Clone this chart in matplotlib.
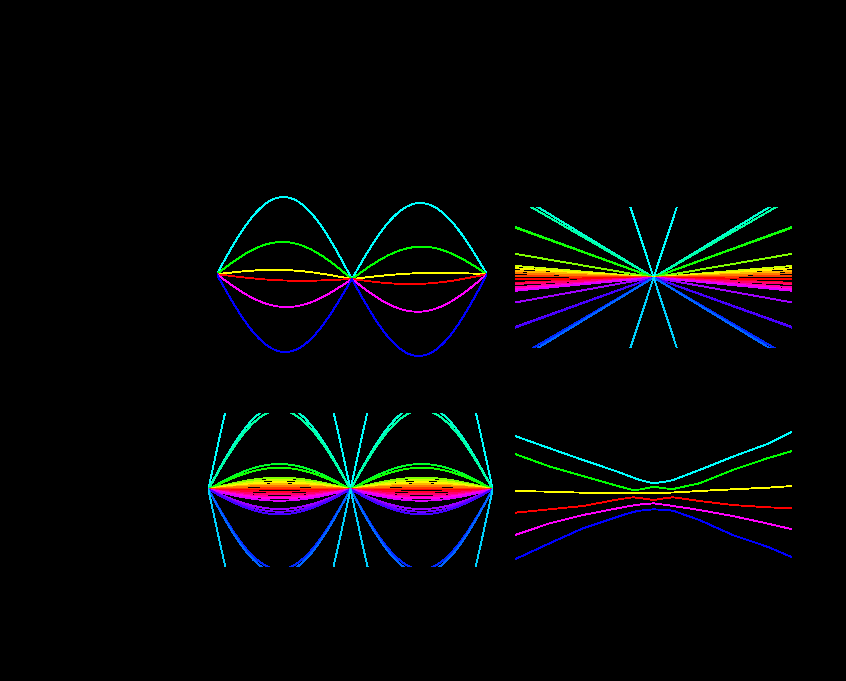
import numpy as np
import matplotlib
matplotlib.use("Agg")
import matplotlib.pyplot as plt
from matplotlib.colors import hsv_to_rgb

W, H = 846, 681

# ---------------- data ----------------
# Top-left: 6 bands, two k segments (nodes at k = 0, 1, 2)
tl_hues = [0.5, 1/3, 1/6, 0.0, 5/6, 2/3]
tl_nodes = [2.3, -2.5, 2.3]                      # common energy at the three nodes
tl_amp_seg1 = [79.6, 34.6, 6.6, -3.9, -30.4, -75.4]
tl_amp_seg2 = [73.6, 29.9, 3.5, -7.3, -35.1, -79.4]

# Top-right: V-shaped bands around k = 0 (slope |k| coefficient)
tr_hues = [0.50, 0.47, 0.44, 0.36, 0.32, 0.25, 0.20, 0.16, 0.12, 0.08, 0.04, 0.0,
           0.97, 0.93, 0.89, 0.85, 0.81, 0.77, 0.74, 0.71, 0.64, 0.60, 0.53]
tr_slopes = [421, 84.3, 79.7, 50.6, 49.9, 23.7, 11.6, 9.3, 6.5, 4.3, 1.5, -1.8,
             -5.3, -6.5, -9.8, -11.9, -13.3, -25.0, -49.5, -50.2, -81.0, -84.4, -421]

# Bottom-left: many bands, arc amplitudes (same on both segments)
bl_hues = [0.50, 0.47, 0.44, 0.36, 0.32, 0.25, 0.20, 0.16, 0.12, 0.08, 0.04, 0.0,
           0.97, 0.93, 0.89, 0.85, 0.81, 0.77, 0.74, 0.71, 0.64, 0.60, 0.53]
bl_amps = [211, 84, 79, 25.3, 21.6, 11.6, 9.3, 7.0, 5.0, 3.6, 1.0, 0.0,
           -2.4, -5.0, -7.4, -9.0, -11.4, -19.7, -22.4, -25.0, -80, -84, -211]

# Bottom-right: 6 bands with avoided crossings, sampled along k
br_hues = [0.5, 1/3, 1/6, 0.0, 5/6, 2/3]
br_k = [-1.0, -0.75, -0.51, -0.26, -0.15, -0.10, 0.0, 0.09, 0.14, 0.33, 0.57, 0.82, 1.0]
br_cyan = [56, 43.7, 32, 20.3, 14.5, 12, 8.7, 10.5, 12, 22, 35.3, 48, 60.3]
br_green = [38, 25.5, 16, 6, 2, 2.5, 5.3, 3.5, 3, 8.7, 22, 33.7, 41]
br_yellow = [1, 0.3, -0.7, -1.2, -1.3, -1.3, -1.3, -0.7, -0.5, 1, 2.7, 4.3, 6]
br_red = [-20.7, -17.3, -14, -7.5, -5.3, -6, -8, -6, -5.3, -9, -13, -15.3, -16.3]
br_magenta = [-43, -31.3, -23, -16.3, -13.5, -12.5, -11.3, -13, -14, -18, -24, -31.5, -37.3]
br_blue = [-67.3, -51.3, -36.3, -24.7, -20, -18.7, -17.3, -18, -18.7, -28, -43, -54.7, -65.3]
br_bands = [br_cyan, br_green, br_yellow, br_red, br_magenta, br_blue]

LW = 0.6


def rect(l, r, t, b):
    return [l / W, 1 - b / H, (r - l) / W, (b - t) / H]


def style(ax):
    ax.set_facecolor("black")
    ax.axis("off")


fig = plt.figure(figsize=(W / 100, H / 100), dpi=100, facecolor="black")

# Top-left
ax1 = fig.add_axes(rect(216.7, 487, 190, 365))
style(ax1)
t = np.linspace(0, 1, 300)
shape = np.sin(np.pi * t)
for h, a1, a2 in zip(tl_hues, tl_amp_seg1, tl_amp_seg2):
    c = hsv_to_rgb([h, 1, 1])
    base1 = tl_nodes[0] + (tl_nodes[1] - tl_nodes[0]) * t
    base2 = tl_nodes[1] + (tl_nodes[2] - tl_nodes[1]) * t
    ax1.plot(t, base1 + a1 * shape, color=c, lw=LW, antialiased=False)
    ax1.plot(1 + t, base2 + a2 * shape, color=c, lw=LW, antialiased=False)
ax1.set_xlim(0, 2)
ax1.set_ylim(-88.5, 86.5)

# Top-right
ax2 = fig.add_axes(rect(515, 792.3, 206.7, 348.3))
style(ax2)
k = np.array([-1.0, 0.0, 1.0])
for h, s in zip(tr_hues, tr_slopes):
    ax2.plot(k, s * np.abs(k), color=hsv_to_rgb([h, 1, 1]), lw=LW, antialiased=False)
ax2.set_xlim(-1, 1)
ax2.set_ylim(-70.8, 70.8)

# Bottom-left
ax3 = fig.add_axes(rect(208.3, 492.7, 413.3, 566.7))
style(ax3)
for h, a in zip(bl_hues, bl_amps):
    c = hsv_to_rgb([h, 1, 1])
    ax3.plot(t, a * shape, color=c, lw=LW, antialiased=False)
    ax3.plot(1 + t, a * shape, color=c, lw=LW, antialiased=False)
ax3.set_xlim(0, 2)
ax3.set_ylim(-77.4, 76)

# Bottom-right
ax4 = fig.add_axes(rect(515, 792.3, 420, 570))
style(ax4)
for h, band in zip(br_hues, br_bands):
    ax4.plot(br_k, band, color=hsv_to_rgb([h, 1, 1]), lw=LW, antialiased=False)
ax4.set_xlim(-1, 1)
ax4.set_ylim(-78, 72)

fig.savefig("out.png", dpi=100, facecolor="black")
